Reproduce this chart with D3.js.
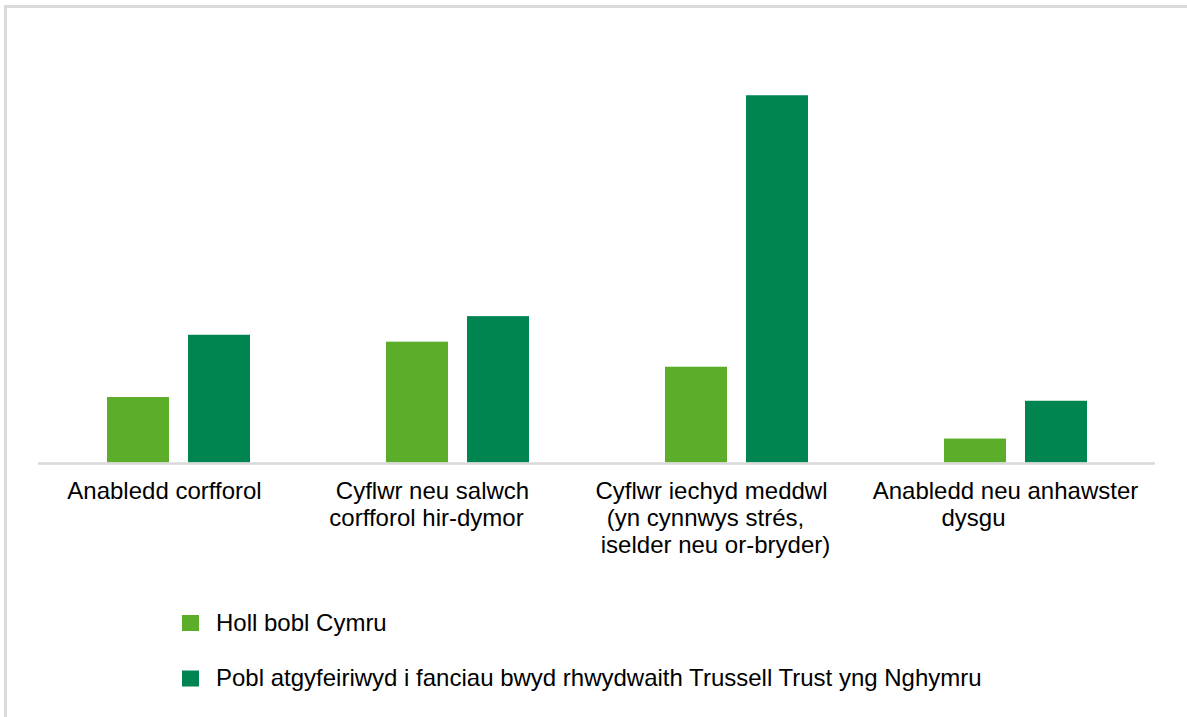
<!DOCTYPE html>
<html>
<head>
<meta charset="utf-8">
<script src="https://cdn.jsdelivr.net/npm/d3@7"></script>
<style>
    body { margin: 0; background: #fff; }
    svg { display: block; }
    text { font-family: "Liberation Sans", Arial, sans-serif; fill: #000; }
</style>
</head>
<body>
<svg id="chart"></svg>
<script>
// Data
const categories = [
    'Anabledd corfforol',
    'Cyflwr neu salwch corfforol hir-dymor',
    'Cyflwr iechyd meddwl (yn cynnwys strés, iselder neu or-bryder)',
    'Anabledd neu anhawster dysgu'
];
// category labels as they wrap in the picture
const categoryLines = [
    ['Anabledd corfforol'],
    ['Cyflwr neu salwch', 'corfforol hir-dymor'],
    ['Cyflwr iechyd meddwl', '(yn cynnwys strés,', 'iselder neu or-bryder)'],
    ['Anabledd neu anhawster', 'dysgu']
];
const seriesNames = [
    'Holl bobl Cymru',
    'Pobl atgyfeiriwyd i fanciau bwyd rhwydwaith Trussell Trust yng Nghymru'
];
const wales = [12.3, 22.7, 18, 4.5];
const referred = [24, 27.5, 69, 11.6];
const seriesValues = [wales, referred];

// Layout
const width = 1187, height = 717;
const colors = ['#5bad2a', '#008550'];
const lineShift = [[-13], [-24, -30], [-24, -30, -20], [-9, -41]];

const svg = d3.select('#chart')
    .attr('width', width)
    .attr('height', height);

// Frame (top and left edges only)
svg.append('rect').attr('x', 4).attr('y', 5).attr('width', width - 4).attr('height', 3).attr('fill', '#dadada');
svg.append('rect').attr('x', 4).attr('y', 5).attr('width', 3).attr('height', height - 5).attr('fill', '#dadada');

const x = d3.scaleBand()
    .domain(categories)
    .range([38, 1154])
    .padding(0);

const xInner = d3.scaleBand()
    .domain(seriesNames)
    .range([69, 212])
    .paddingInner(0.2346)
    .paddingOuter(0);

const y = d3.scaleLinear()
    .domain([0, 80])
    .range([462.5, 36.7]);

// Bars
const groups = svg.append('g')
    .selectAll('g')
    .data(categories)
    .enter().append('g')
    .attr('transform', d => `translate(${x(d)},0)`);

groups.selectAll('rect')
    .data((d, i) => seriesNames.map((s, j) => ({ series: s, value: seriesValues[j][i], j: j })))
    .enter().append('rect')
    .attr('x', d => xInner(d.series))
    .attr('width', xInner.bandwidth())
    .attr('y', d => y(d.value))
    .attr('height', d => y(0) - y(d.value))
    .attr('fill', d => colors[d.j]);

// Baseline
svg.append('line')
    .attr('x1', 38).attr('x2', 1155)
    .attr('y1', y(0) + 1).attr('y2', y(0) + 1)
    .attr('stroke', '#d9d9d9')
    .attr('stroke-width', 2.5);

// Category labels
categories.forEach((c, i) => {
    const cx = x(c) + x.bandwidth() / 2;
    categoryLines[i].forEach((line, k) => {
        svg.append('text')
            .attr('x', cx + lineShift[i][k])
            .attr('y', 499 + k * 27)
            .attr('text-anchor', 'middle')
            .style('font-size', '24px')
            .text(line);
    });
});

// Legend
const legend = svg.append('g')
    .selectAll('g')
    .data(seriesNames)
    .enter().append('g')
    .attr('transform', (d, i) => `translate(182,${615 + i * 55.5})`);

legend.append('rect')
    .attr('width', 17)
    .attr('height', 16)
    .attr('fill', (d, i) => colors[i]);

legend.append('text')
    .attr('x', 34)
    .attr('y', 15.5)
    .style('font-size', '24px')
    .text(d => d);
</script>
</body>
</html>
